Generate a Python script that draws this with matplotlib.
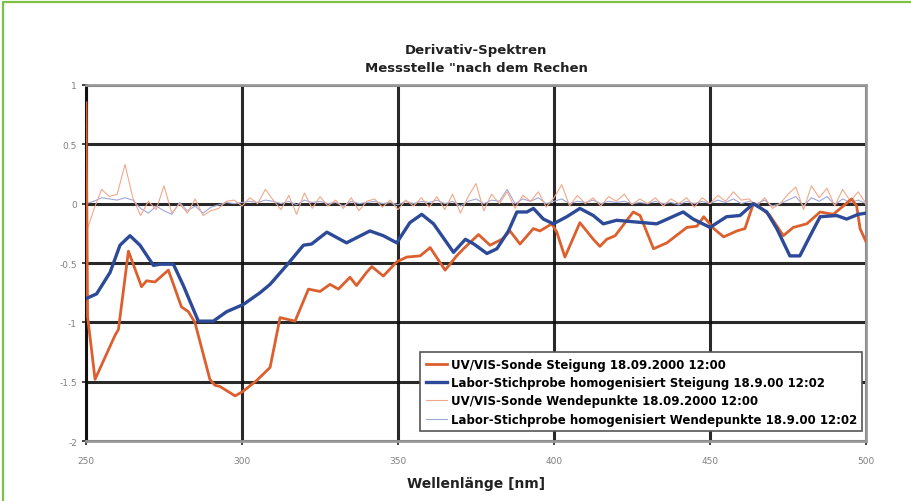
import matplotlib.pyplot as plt
from matplotlib.lines import Line2D

plt.rcParams['font.family'] = ['DejaVu Sans']

# UV/VIS-Sonde, Steigung (thick orange)
wl_sonde = [250, 250.5, 252.9, 259.3, 260.4, 263.6, 267.8, 269.4, 272.1, 276.4,
            280.6, 282.8, 284.9, 289.7, 291.3, 292.9, 297.8, 300.4, 304.7, 309,
            312.2, 317, 318.6, 321.3, 325, 328.2, 330.9, 334.6, 336.7, 339.9,
            341.6, 345.3, 349.6, 352.8, 357.1, 360.3, 365.1, 368.8, 371, 375.8,
            379.5, 383.3, 385.9, 389.1, 393.4, 395.5, 399.3, 400.9, 403.5, 408.3,
            412.6, 414.7, 416.9, 419.6, 425.4, 427.6, 431.9, 436.2, 442.6, 445.8,
            448, 451.2, 454.4, 458.6, 461.2, 463.9, 466, 469.2, 473.5, 476.7,
            481, 485.3, 489.5, 492.7, 495.4, 497, 498.1, 500]
steig_sonde = [0.85, -0.95, -1.48, -1.11, -1.06, -0.40, -0.70, -0.65, -0.66, -0.56,
               -0.87, -0.91, -1.00, -1.48, -1.53, -1.54, -1.62, -1.58, -1.49, -1.38,
               -0.96, -0.99, -0.89, -0.72, -0.74, -0.68, -0.72, -0.62, -0.69, -0.58,
               -0.53, -0.61, -0.49, -0.45, -0.44, -0.37, -0.56, -0.44, -0.38, -0.26,
               -0.35, -0.30, -0.23, -0.34, -0.21, -0.23, -0.17, -0.24, -0.45, -0.16,
               -0.30, -0.36, -0.30, -0.27, -0.07, -0.10, -0.38, -0.33, -0.20, -0.19,
               -0.11, -0.21, -0.28, -0.23, -0.21, 0.00, -0.03, -0.10, -0.27, -0.20,
               -0.17, -0.07, -0.09, -0.02, 0.04, -0.02, -0.21, -0.32]

# Labor-Stichprobe, Steigung (thick blue)
wl_labor = [250, 253.4, 257.7, 260.9, 264.1, 267.3, 271.6, 273.7, 278, 281.2,
            286, 290.8, 295.1, 300.4, 305.8, 309, 314.3, 319.7, 322.3, 327.2,
            333.5, 341, 345.3, 349.6, 353.8, 357.6, 361.4, 367.8, 371.6, 374.3,
            378.5, 381.7, 385.4, 388.1, 391.3, 393.4, 396.6, 399.8, 404.1, 408.3,
            412.6, 415.8, 420.1, 432.9, 441.4, 444.6, 450, 455.3, 459.6, 463.9,
            468.2, 471.4, 475.6, 478.8, 482.1, 485.3, 490.6, 493.8, 497.5, 500]
steig_labor = [-0.80, -0.76, -0.58, -0.35, -0.27, -0.35, -0.52, -0.51, -0.51, -0.69,
               -0.99, -0.99, -0.91, -0.85, -0.75, -0.68, -0.52, -0.35, -0.34, -0.24,
               -0.33, -0.23, -0.27, -0.33, -0.16, -0.09, -0.17, -0.41, -0.30, -0.34,
               -0.42, -0.38, -0.23, -0.07, -0.07, -0.04, -0.13, -0.17, -0.11, -0.04,
               -0.10, -0.17, -0.14, -0.17, -0.07, -0.13, -0.20, -0.11, -0.10, 0.00,
               -0.07, -0.21, -0.44, -0.44, -0.27, -0.11, -0.10, -0.13, -0.09, -0.08]

# Wendepunkte, sampled every 2.5 nm
wl_wende = [250 + 2.5 * i for i in range(101)]
wende_sonde = [-0.25, -0.05, 0.12, 0.06, 0.08, 0.33, 0.05, -0.10, 0.02, -0.05,
               0.15, -0.08, 0.00, -0.08, 0.04, -0.10, -0.06, -0.04, 0.02, 0.03,
               -0.02, 0.05, 0.00, 0.12, 0.03, -0.05, 0.07, -0.09, 0.09, -0.04,
               0.06, -0.02, 0.03, -0.04, 0.05, -0.06, 0.02, 0.04, -0.03, 0.03,
               -0.05, 0.03, -0.02, 0.05, -0.03, 0.06, -0.05, 0.08, -0.08, 0.06,
               0.17, -0.06, 0.08, 0.00, 0.10, -0.04, 0.07, 0.02, 0.10, -0.03,
               0.05, 0.16, -0.02, 0.07, 0.00, 0.05, -0.02, 0.06, 0.02, 0.08,
               -0.01, 0.04, 0.00, 0.05, -0.02, 0.04, 0.00, 0.05, -0.03, 0.05,
               0.00, 0.07, 0.02, 0.10, 0.03, 0.04, -0.02, 0.05, -0.04, 0.00,
               0.08, 0.14, -0.05, 0.15, 0.05, 0.13, -0.02, 0.12, 0.02, 0.10,
               0.00]
wende_labor = [0.00, 0.02, 0.05, 0.04, 0.03, 0.05, 0.03, -0.04, -0.08, -0.02,
               -0.06, -0.09, 0.01, -0.06, -0.02, -0.08, -0.03, -0.01, 0.01, 0.00,
               0.01, 0.02, 0.01, 0.03, 0.02, 0.00, 0.02, -0.01, 0.03, 0.01,
               0.02, 0.00, 0.01, -0.02, 0.02, 0.00, 0.01, 0.02, 0.00, 0.01,
               -0.01, 0.02, 0.00, 0.02, 0.01, 0.03, 0.00, 0.02, -0.02, 0.02,
               0.04, 0.00, 0.03, 0.02, 0.12, 0.00, 0.04, 0.02, 0.05, 0.00,
               0.02, 0.04, 0.00, 0.02, 0.01, 0.03, 0.00, 0.02, 0.01, 0.02,
               0.00, 0.01, 0.00, 0.02, 0.00, 0.01, -0.01, 0.02, 0.00, 0.02,
               0.00, 0.03, 0.01, 0.04, 0.00, 0.02, 0.00, 0.03, -0.02, 0.00,
               0.03, 0.06, -0.02, 0.05, 0.02, 0.06, -0.01, 0.04, 0.01, 0.03,
               0.00]

labels = ["UV/VIS-Sonde Steigung 18.09.2000 12:00",
          "Labor-Stichprobe homogenisiert Steigung 18.9.00 12:02",
          "UV/VIS-Sonde Wendepunkte 18.09.2000 12:00",
          "Labor-Stichprobe homogenisiert Wendepunkte 18.9.00 12:02"]

fig = plt.figure(figsize=(9.11, 5.02), dpi=100)
# green page frame (top and left edges)
fig.lines.append(Line2D([0.003, 0.003, 1.0], [0.0, 0.995, 0.995], transform=fig.transFigure,
                        color='#7cc143', linewidth=1.6))

ax = fig.add_axes([0.0944, 0.1195, 0.8562, 0.7092])
ax.plot(wl_sonde, steig_sonde, color='#dc5f2e', lw=2.0, label=labels[0], zorder=5)
ax.plot(wl_labor, steig_labor, color='#2d4a98', lw=2.4, label=labels[1], zorder=6)
ax.plot(wl_wende, wende_sonde, color='#f2a88a', lw=0.8, label=labels[2], zorder=4)
ax.plot(wl_wende, wende_labor, color='#9ea8d8', lw=0.8, label=labels[3], zorder=3)

ax.set_xlim(250, 500)
ax.set_ylim(-2, 1)
ax.set_xticks([250, 300, 350, 400, 450, 500])
ax.set_yticks([1, 0.5, 0, -0.5, -1, -1.5, -2])
ax.set_yticklabels(['1', '0.5', '0', '-0.5', '-1', '-1.5', '-2'])
ax.tick_params(labelsize=6.5, labelcolor='#808080', colors='#222222', length=3, width=1.2)
ax.tick_params(axis='x', pad=8)
ax.grid(True, color='#111111', linewidth=2.2, alpha=0.9)
ax.set_axisbelow(True)
for side in ['top', 'right', 'bottom']:
    ax.spines[side].set_color('#999999')
    ax.spines[side].set_linewidth(2)
ax.spines['left'].set_color('#111111')
ax.spines['left'].set_linewidth(2.2)

ax.set_xlabel('Wellenlänge [nm]', fontsize=10, fontweight='bold', color='#222222', labelpad=8)
ax.set_title('Derivativ-Spektren\nMessstelle "nach dem Rechen', fontsize=9.5, fontweight='bold',
             color='#222222', pad=10, linespacing=1.5)

leg = ax.legend(loc='lower right', bbox_to_anchor=(0.995, 0.028), borderaxespad=0,
                fancybox=False, framealpha=1, edgecolor='#555555', borderpad=0.45,
                handlelength=1.8, handletextpad=0.3, labelspacing=0.45,
                prop={'size': 8.5, 'weight': 'bold'})
leg.get_frame().set_linewidth(1.2)
leg.set_zorder(10)

fig.savefig('out.png', dpi=100)
